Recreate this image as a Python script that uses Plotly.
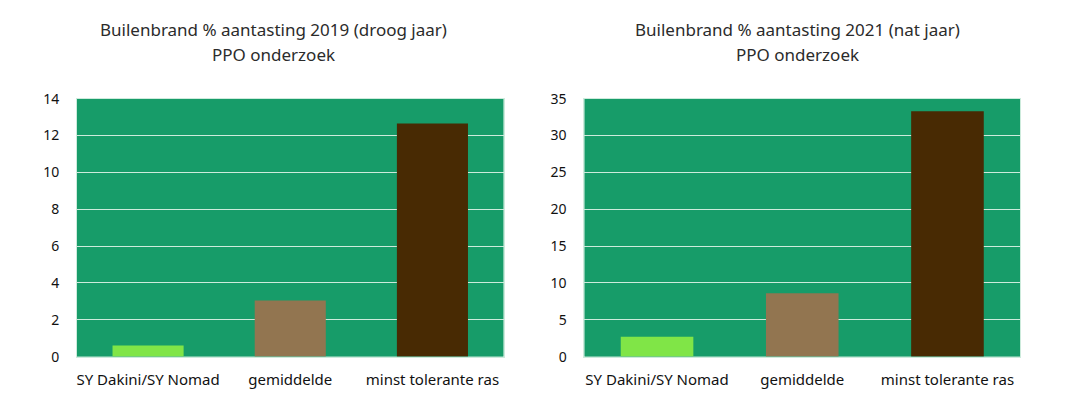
import plotly.graph_objects as go

categories = ["SY Dakini/SY Nomad", "gemiddelde", "minst tolerante ras"]
values_2019 = [0.6, 3.05, 12.65]
values_2021 = [2.7, 8.6, 33.3]
bar_colors = ["#80E547", "#927550", "#482A03"]
title_2019 = ["Builenbrand % aantasting 2019 (droog jaar)", "PPO onderzoek"]
title_2021 = ["Builenbrand % aantasting 2021 (nat jaar)", "PPO onderzoek"]

plot_bg = "#179C69"
grid_col = "#CDEBDC"
font_family = "Noto Sans"

fig = go.Figure()
fig.add_trace(go.Bar(x=categories, y=values_2019, marker=dict(color=bar_colors, line=dict(width=0)),
                     xaxis="x", yaxis="y", showlegend=False))
fig.add_trace(go.Bar(x=categories, y=values_2021, marker=dict(color=bar_colors, line=dict(width=0)),
                     xaxis="x2", yaxis="y2", showlegend=False))

def yaxis(domain_anchor, rng, dtick):
    return dict(domain=[0.1295, 0.7926], anchor=domain_anchor, range=rng, dtick=dtick,
                showgrid=True, gridcolor=grid_col, gridwidth=1.2, zeroline=False,
                showline=True, linecolor=grid_col, linewidth=1, mirror=True,
                ticks="", ticklabelstandoff=14,
                tickfont=dict(family=font_family, size=14, color="#111"))

def xaxis(domain, anchor):
    return dict(domain=domain, anchor=anchor, showgrid=False, zeroline=False,
                showline=True, linecolor=grid_col, linewidth=1, mirror=True,
                ticks="", ticklabelstandoff=9,
                tickfont=dict(family=font_family, size=15, color="#111"))

annotations = []
for xc, lines in [(265 / 1070, title_2019), (789 / 1070, title_2021)]:
    for txt, yy in zip(lines, [0.9693, 0.9053]):
        annotations.append(dict(text=txt, x=xc, y=yy, xref="paper", yref="paper",
                                xanchor="center", yanchor="middle", showarrow=False,
                                font=dict(family=font_family, size=17, color="#2B2B2B")))

fig.update_layout(
    width=1070, height=408,
    margin=dict(l=0, r=0, t=0, b=0),
    paper_bgcolor="white", plot_bgcolor=plot_bg,
    bargap=0.5,
    xaxis=xaxis([0.0636, 0.4626], "y"),
    yaxis=yaxis("x", [0, 14], 2),
    xaxis2=xaxis([0.5383, 0.9458], "y2"),
    yaxis2=yaxis("x2", [0, 35], 5),
    annotations=annotations,
)

fig.write_html("out.html")
